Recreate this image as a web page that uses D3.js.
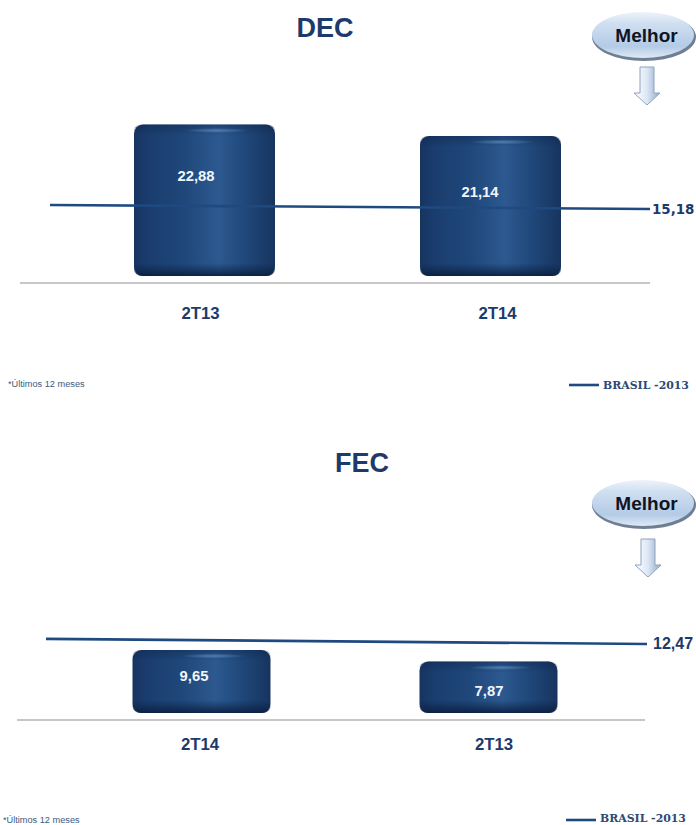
<!DOCTYPE html>
<html>
<head>
<meta charset="utf-8">
<script src="https://cdn.jsdelivr.net/npm/d3@7"></script>
<style>
  html, body { margin: 0; padding: 0; background: #fff; }
  svg { display: block; font-family: "Liberation Sans", Arial, sans-serif; }
</style>
</head>
<body>
<div id="chart"></div>
<script>
// DEC panel
const decCategories = ["2T13", "2T14"];
const decValues = [22.88, 21.14];
const decLabels = ["22,88", "21,14"];
const decBrasil = [16.1, 15.18]; // the line leans a bit in the picture
const decBrasilLabel = "15,18";

// FEC panel
const fecCategories = ["2T14", "2T13"];
const fecValues = [9.65, 7.87];
const fecLabels = ["9,65", "7,87"];
const fecBrasil = [13.4, 12.47];
const fecBrasilLabel = "12,47";

const legendText = "BRASIL -2013";
const noteText = "*Últimos 12 meses";

const svg = d3.select("#chart").append("svg").attr("width", 696).attr("height", 825);
const defs = svg.append("defs");

// bar side shading
const barGrad = defs.append("linearGradient").attr("id", "barSide");
[[0, "#17345f"], [0.1, "#1a3d6e"], [0.35, "#1f4779"], [0.6, "#2c5990"], [0.8, "#1f4779"], [1, "#17345f"]]
    .forEach(s => barGrad.append("stop").attr("offset", s[0]).attr("stop-color", s[1]));

// bar top and bottom shading
const shade = defs.append("linearGradient").attr("id", "barShade").attr("x1", 0).attr("x2", 0).attr("y1", 0).attr("y2", 1);
shade.append("stop").attr("offset", 0).attr("stop-color", "#0c2348").attr("stop-opacity", 0.4);
shade.append("stop").attr("offset", 1).attr("stop-color", "#0c2348").attr("stop-opacity", 0);
const shadeB = defs.append("linearGradient").attr("id", "barShadeB").attr("x1", 0).attr("x2", 0).attr("y1", 0).attr("y2", 1);
shadeB.append("stop").attr("offset", 0).attr("stop-color", "#0c2348").attr("stop-opacity", 0);
shadeB.append("stop").attr("offset", 1).attr("stop-color", "#0a1e3e").attr("stop-opacity", 0.9);

const glow = defs.append("radialGradient").attr("id", "barGlow");
glow.append("stop").attr("offset", 0).attr("stop-color", "#5f8abd").attr("stop-opacity", 0.8);
glow.append("stop").attr("offset", 1).attr("stop-color", "#5f8abd").attr("stop-opacity", 0);

// Melhor bubble
const bubble = defs.append("linearGradient").attr("id", "bubble").attr("x1", 0).attr("x2", 0).attr("y1", 0).attr("y2", 1);
[[0, "#eef3fa"], [0.25, "#cfdff1"], [0.75, "#b4cbe6"], [1, "#dfe9f5"]]
    .forEach(s => bubble.append("stop").attr("offset", s[0]).attr("stop-color", s[1]));

const arrowGrad = defs.append("linearGradient").attr("id", "arrowFill");
[[0, "#ffffff"], [0.5, "#dce7f4"], [1, "#8fa9c9"]]
    .forEach(s => arrowGrad.append("stop").attr("offset", s[0]).attr("stop-color", s[1]));

function drawPanel(p) {
    const g = svg.append("g");

    g.append("text").attr("x", p.titleX).attr("y", p.titleY).attr("text-anchor", "middle")
        .attr("font-size", 27).attr("font-weight", "bold").attr("fill", "#1c3a6b").text(p.title);

    const x = d3.scalePoint().domain(p.categories).range(p.barCenters);
    const y = d3.scaleLinear().domain([0, d3.max(p.values)]).range([p.bottom, p.top]);

    // baseline
    g.append("line").attr("x1", p.baseX[0]).attr("x2", p.baseX[1]).attr("y1", p.baseY).attr("y2", p.baseY)
        .attr("stroke", "#b4b4b4").attr("stroke-width", 1.3);

    const bars = g.selectAll(".bar").data(p.categories).join("g").attr("class", "bar");
    const bx = d => x(d) - p.barWidth / 2;
    const by = (d, i) => y(p.values[i]);
    const bh = (d, i) => p.bottom - y(p.values[i]);

    bars.append("rect").attr("x", bx).attr("y", by).attr("width", p.barWidth).attr("height", bh)
        .attr("rx", 9).attr("fill", "url(#barSide)");
    bars.append("rect").attr("x", bx).attr("y", by).attr("width", p.barWidth).attr("height", 11)
        .attr("rx", 8).attr("fill", "url(#barShade)");
    bars.append("rect").attr("x", bx).attr("y", (d, i) => p.bottom - 13).attr("width", p.barWidth).attr("height", 13)
        .attr("rx", 8).attr("fill", "url(#barShadeB)");
    bars.append("ellipse").attr("cx", d => x(d) + 12).attr("cy", (d, i) => by(d, i) + 6)
        .attr("rx", 32).attr("ry", 2.5).attr("fill", "url(#barGlow)");

    // Brasil reference line, has its own scale because it doesn't sit on the bar scale
    const yLine = d3.scaleLinear().domain([0, p.brasil[1]]).range([p.bottom, p.lineEndY]);
    const xLine = d3.scaleLinear().domain([0, 1]).range(p.lineX);
    const line = d3.line().x((d, i) => xLine(i)).y(d => yLine(d));
    g.append("path").attr("d", line(p.brasil)).attr("fill", "none")
        .attr("stroke", "#1f4a80").attr("stroke-width", 2.6);

    g.append("text").attr("x", p.lineLabelX).attr("y", p.lineEndY + p.lineLabelDy)
        .style("font-family", p.lineLabelFont).attr("font-size", p.lineLabelSize).attr("font-weight", "bold")
        .attr("fill", "#1c3a6b").text(p.brasilLabel);

    // values inside the bars
    bars.append("text").attr("x", (d, i) => p.valuePos[i][0]).attr("y", (d, i) => p.valuePos[i][1])
        .attr("text-anchor", "middle").attr("font-size", 14.8).attr("font-weight", "bold")
        .attr("fill", "#f2f5fa").text((d, i) => p.labels[i]);

    // category labels
    const xLab = d3.scalePoint().domain(p.categories).range(p.labelCenters);
    const axis = g.append("g").attr("transform", `translate(0,${p.axisY})`)
        .call(d3.axisBottom(xLab).tickSize(0).tickPadding(0));
    axis.select(".domain").remove();
    axis.selectAll("text").style("font-family", "Liberation Sans").style("font-size", "16.8px").style("font-weight", "bold")
        .attr("fill", "#1c3a6b");

    // Melhor bubble and arrow
    g.append("ellipse").attr("cx", p.bubble[0] + 1).attr("cy", p.bubble[1] + 2).attr("rx", 52).attr("ry", 24)
        .attr("fill", "#6f7f93");
    g.append("ellipse").attr("cx", p.bubble[0]).attr("cy", p.bubble[1]).attr("rx", 51).attr("ry", 23)
        .attr("fill", "url(#bubble)");
    g.append("text").attr("x", p.bubble[0] + 3.5).attr("y", p.bubble[1] + 6.5).attr("text-anchor", "middle")
        .attr("font-size", 19).attr("font-weight", "bold").attr("fill", "#10141f").text("Melhor");

    const ax = p.arrow[0], ay = p.arrow[1];
    const arrow = d3.path();
    arrow.moveTo(ax - 7, ay); arrow.lineTo(ax + 7, ay); arrow.lineTo(ax + 7, ay + 26);
    arrow.lineTo(ax + 13, ay + 26); arrow.lineTo(ax, ay + 38); arrow.lineTo(ax - 13, ay + 26);
    arrow.lineTo(ax - 7, ay + 26); arrow.closePath();
    g.append("path").attr("d", arrow.toString()).attr("fill", "url(#arrowFill)")
        .attr("stroke", "#8ea3bd").attr("stroke-width", 1);

    // note and legend
    g.append("text").attr("x", p.noteX).attr("y", p.noteY).attr("font-size", 9.2).attr("fill", "#3c5a80").text(noteText);
    g.append("line").attr("x1", p.legendX[0]).attr("x2", p.legendX[1]).attr("y1", p.legendY).attr("y2", p.legendY)
        .attr("stroke", "#1f4a80").attr("stroke-width", 2.6);
    g.append("text").attr("x", p.legendX[1] + 4).attr("y", p.legendTextY).style("font-family", "DejaVu Serif")
        .attr("font-size", 10.9).attr("font-weight", "bold").attr("fill", "#2c4a75").text(legendText);
}

drawPanel({
    title: "DEC", titleX: 325, titleY: 37,
    categories: decCategories, values: decValues, labels: decLabels,
    brasil: decBrasil, brasilLabel: decBrasilLabel,
    barCenters: [204.5, 490.5], barWidth: 141, bottom: 276, top: 124.5,
    valuePos: [[196, 181], [480, 197]],
    baseX: [20, 650], baseY: 283, axisY: 307, labelCenters: [200, 497],
    lineX: [50, 650], lineEndY: 209, lineLabelX: 652, lineLabelDy: 4.5,
    lineLabelFont: "DejaVu Sans", lineLabelSize: 13.4,
    bubble: [643, 35], arrow: [647, 67],
    noteX: 8, noteY: 387, legendX: [569, 599], legendY: 385, legendTextY: 389
});

drawPanel({
    title: "FEC", titleX: 362, titleY: 472,
    categories: fecCategories, values: fecValues, labels: fecLabels,
    brasil: fecBrasil, brasilLabel: fecBrasilLabel,
    barCenters: [201.5, 488.5], barWidth: 138, bottom: 713, top: 650,
    valuePos: [[194, 681], [489, 696]],
    baseX: [17, 645], baseY: 720, axisY: 738, labelCenters: [199.5, 493.5],
    lineX: [46, 647], lineEndY: 644, lineLabelX: 653, lineLabelDy: 5,
    lineLabelFont: "Liberation Sans", lineLabelSize: 16,
    bubble: [643, 503], arrow: [648, 539],
    noteX: 3, noteY: 822.5, legendX: [566, 596], legendY: 820, legendTextY: 822
});
</script>
</body>
</html>
